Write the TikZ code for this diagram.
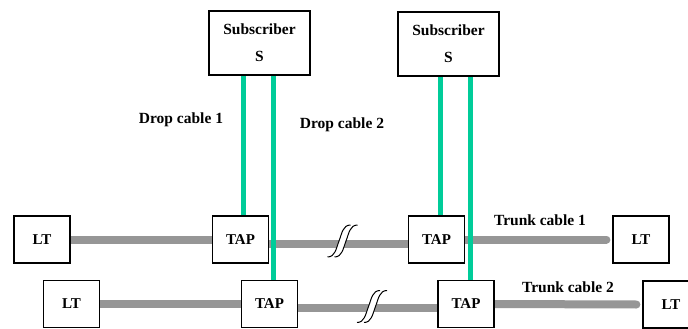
\documentclass[tikz,border=0pt]{standalone}
\usepackage{fontspec}
\setmainfont{Liberation Serif}
\usetikzlibrary{backgrounds}
\definecolor{trunkgray}{RGB}{150,150,150}
\definecolor{dropgreen}{RGB}{0,204,153}
\begin{document}
\begin{tikzpicture}[x=1pt,y=-1pt,
  box/.style={draw=black,line width=1.2pt,fill=white,inner sep=0pt,
              font=\fontsize{15}{18}\selectfont\bfseries},
  unit/.style={box,minimum width=56pt,minimum height=47pt},
  sub/.style={box,minimum width=101pt,minimum height=64pt,align=center,
              font=\fontsize{15.5}{27}\selectfont\bfseries},
  trunk/.style={line width=8pt,draw=trunkgray},
  drop/.style={line width=5pt,draw=dropgreen},
  lbl/.style={font=\fontsize{15.5}{18}\selectfont\bfseries,inner sep=0pt},
  brk/.pic={
    \fill[white] (-11.5,16) .. controls (-4,16) and (-3,8) .. (0,0)
      .. controls (3,-8) and (4,-16) .. (11.5,-16) -- (18.5,-16)
      .. controls (11,-16) and (10,-8) .. (7,0)
      .. controls (4,8) and (3,16) .. (-4.5,16) -- cycle;
    \draw[line width=1pt] (-11.5,16) .. controls (-4,16) and (-3,8) .. (0,0)
      .. controls (3,-8) and (4,-16) .. (11.5,-16);
    \draw[line width=1pt] (-4.5,16) .. controls (3,16) and (4,8) .. (7,0)
      .. controls (10,-8) and (11,-16) .. (18.5,-16);
  }]
\useasboundingbox (0,0) rectangle (688,329);
\clip (0,0) rectangle (688,329);

% subscribers
\node[sub] (sub1) at (259.5,43) {Subscriber\\S};
\node[sub] (sub2) at (448.5,44) {Subscriber\\S};

% line terminations and taps, upper trunk
\node[unit] (lt1)  at (42,239.5)  {LT};
\node[unit] (tap1) at (240.5,239.5) {TAP};
\node[unit] (tap3) at (436.5,239.5) {TAP};
\node[unit] (lt3)  at (641,239.5) {LT};

% line terminations and taps, lower trunk
\node[unit] (lt2)  at (71.5,304) {LT};
\node[unit] (tap2) at (269.5,304) {TAP};
\node[unit] (tap4) at (466,304) {TAP};
\node[unit] (lt4)  at (671,304.5) {LT};

% labels
\node[lbl] (dc1) at (181,120) {Drop cable 1};
\node[lbl] (dc2) at (342,125) {Drop cable 2};
\node[lbl] (tc1) at (540,220) {Trunk cable 1};
\node[lbl] (tc2) at (568,287) {Trunk cable 2};

\begin{scope}[on background layer]
  \fill[white] (0,0) rectangle (688,329);
  % trunk cables
  \draw[trunk] (lt1.east) -- (tap1.west);
  \draw[trunk] ([yshift=-4pt]tap1.east) -- ([yshift=-4pt]tap3.west);
  \draw[trunk,line cap=round] (tap3.east) -- ([xshift=-6pt]lt3.west);
  \draw[trunk] (lt2.east) -- (tap2.west);
  \draw[trunk] ([yshift=-4pt]tap2.east) -- ([yshift=-4pt]tap4.west);
  \draw[trunk,line cap=round] (tap4.east) -- ([xshift=-6pt]lt4.west);
  % breaks in the trunk between taps
  \pic at (339,241) {brk};
  \pic at (368.5,306.5) {brk};
  % drop cables
  \draw[drop] (243,0 |- sub1.south) -- (243,0 |- tap1.north);
  \draw[drop] (273,0 |- sub1.south) -- (273,0 |- tap2.north);
  \draw[drop] (440,0 |- sub2.south) -- (440,0 |- tap3.north);
  \draw[drop] (470,0 |- sub2.south) -- (470,0 |- tap4.north);
\end{scope}
\end{tikzpicture}
\end{document}
